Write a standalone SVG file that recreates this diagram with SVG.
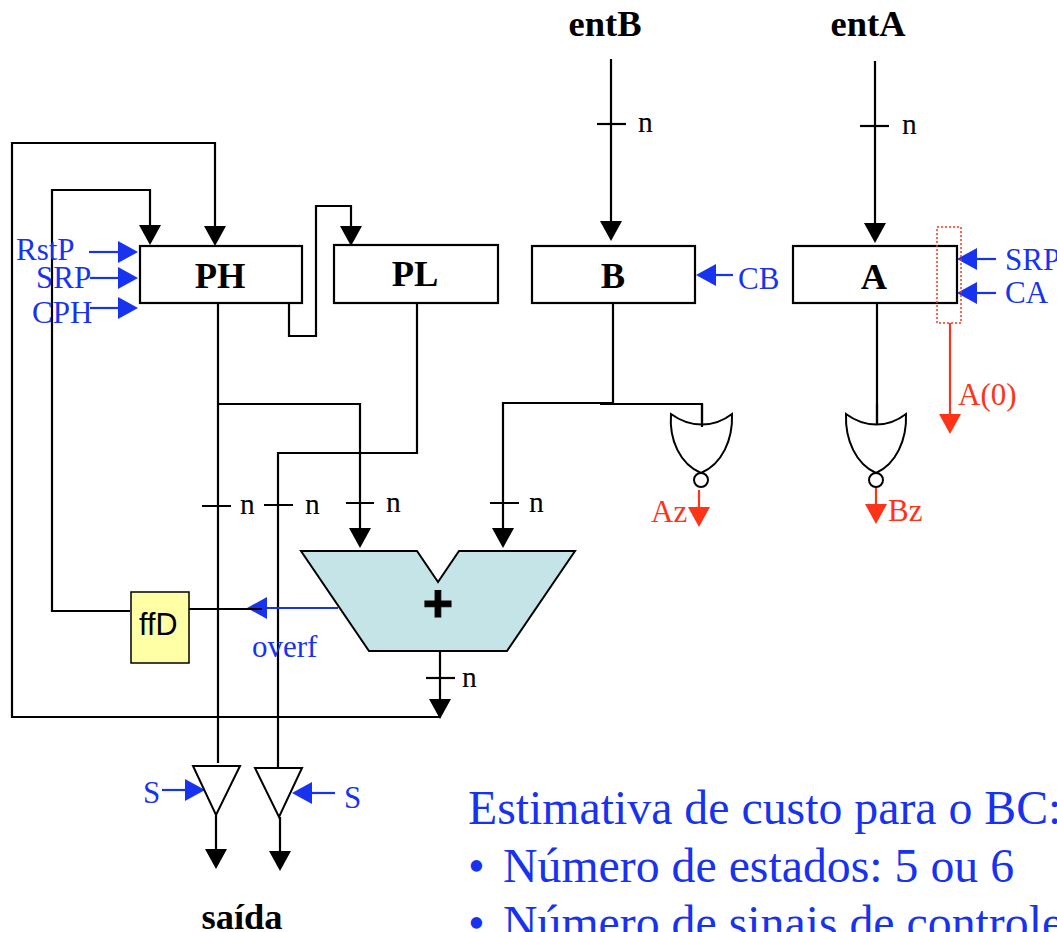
<svg xmlns="http://www.w3.org/2000/svg" width="1057" height="932" viewBox="0 0 1057 932">
<style>
text{font-family:"Liberation Serif","Times New Roman",serif}
.bold{font-weight:700;font-size:36.5px;fill:#000;text-anchor:middle}
.n{font-size:29.5px;fill:#000}
.b{font-size:31px;fill:#1733f0}
.r{font-size:31px;fill:#ff3318}
.est{font-size:47.8px;fill:#1733f0}
.reg{fill:#fff;stroke:#000;stroke-width:2.2}
.gate{fill:#fff;stroke:#000;stroke-width:2}
path,line{fill:none}
.k{stroke:#000;stroke-width:2.2}
.kA{stroke:#000;stroke-width:2.2;marker-end:url(#ak)}
.bA{stroke:#1733f0;stroke-width:2.2;marker-end:url(#ab)}
.rA{stroke:#ff3318;stroke-width:2.2;marker-end:url(#ar)}
</style>
<defs>
<marker id="ak" markerUnits="userSpaceOnUse" markerWidth="21" markerHeight="22" refX="0" refY="11" orient="auto" overflow="visible"><path d="M0,0 L20,11 L0,22 Z" style="fill:#000"/></marker>
<marker id="ab" markerUnits="userSpaceOnUse" markerWidth="21" markerHeight="22" refX="0" refY="11" orient="auto" overflow="visible"><path d="M0,0 L20,11 L0,22 Z" style="fill:#1733f0"/></marker>
<marker id="ar" markerUnits="userSpaceOnUse" markerWidth="21" markerHeight="22" refX="0" refY="11" orient="auto" overflow="visible"><path d="M0,0 L20,11 L0,22 Z" style="fill:#ff3318"/></marker>
</defs>
<g id="connectors">
<path class="kA" d="M611,59V221"/>
<path class="k" d="M597,124H626"/>
<path class="kA" d="M875,61V223"/>
<path class="k" d="M860,126H889"/>
<path class="kA" d="M441,717H12V143H215V226"/>
<path class="kA" d="M130,611H52V190H150V225"/>
<path class="kA" d="M289,303V336H316V206H351V226"/>
<path class="k" d="M218,303V763"/>
<path class="kA" d="M218,404H360V528"/>
<path class="k" d="M417,303V453H278V768"/>
<path class="k" d="M202,506H231M264,505H293M346,503H374M490,503H519"/>
<path class="kA" d="M613,303V403H503V528"/>
<path class="k" d="M600,404H702V427"/>
<path class="k" d="M877,303V425"/>
<path class="bA" d="M338,608H267"/>
<path class="k" d="M189,609H262"/>
<path class="kA" d="M440,651V699"/>
<path class="k" d="M426,678H455"/>
<path class="kA" d="M216,815V849"/>
<path class="kA" d="M280,817V851"/>
<path class="bA" d="M89,252H118"/>
<path class="bA" d="M90,278H118"/>
<path class="bA" d="M90,308H118"/>
<path class="bA" d="M733,275H716"/>
<path class="bA" d="M996,259H977"/>
<path class="bA" d="M996,293H977"/>
<path class="bA" d="M162,790H185"/>
<path class="bA" d="M335,793H312"/>
<path class="rA" d="M950,323V414"/>
<path class="rA" d="M699,490V507"/>
<path class="rA" d="M876,487V504"/>
</g>
<g id="node-PH"><rect class="reg" x="140" y="246" width="162" height="57"/><text class="bold" x="220" y="288">PH</text></g>
<g id="node-PL"><rect class="reg" x="334" y="245" width="164" height="58"/><text class="bold" x="415" y="286">PL</text></g>
<g id="node-B"><rect class="reg" x="532" y="246" width="163" height="57"/><text class="bold" x="613" y="288">B</text></g>
<g id="node-A"><rect class="reg" x="793" y="246" width="164" height="57"/><text class="bold" x="874" y="289">A</text></g>
<g id="node-A0"><rect x="937" y="227" width="24" height="96" style="fill:none;stroke:#ff3318;stroke-width:1.5;stroke-dasharray:2 2"/></g>
<g id="node-adder"><polygon points="301,551 417,551 438,582 459,551 575,551 507,651 369,651" style="fill:#c4e4e8;stroke:#000;stroke-width:2"/><text x="438" y="621" style="font-family:'Liberation Sans',Arial,sans-serif;font-weight:700;font-size:52px;text-anchor:middle;fill:#000;stroke:#000;stroke-width:1">+</text></g>
<g id="node-ffD"><rect x="131" y="592" width="58" height="71" style="fill:#ffffa5;stroke:#000;stroke-width:1.5"/><text x="139" y="635" style="font-family:'Liberation Sans',Arial,sans-serif;font-size:30.5px;fill:#000">ffD</text></g>
<g id="node-norB"><path class="gate" d="M671,414C690,428 714,428 732,414C733,440 722,464 701,473C680,464 669,440 671,414Z"/><circle class="gate" cx="701" cy="480" r="7"/><path class="k" d="M702,404V427"/></g>
<g id="node-norA"><path class="gate" d="M846,414C865,428 888,428 906,414C907,440 896,464 876,473C856,464 845,440 846,414Z"/><circle class="gate" cx="876" cy="480" r="7"/><path class="k" d="M877,404V425"/></g>
<g id="node-buf1"><polygon class="gate" points="193,766 240,766 216,815"/></g>
<g id="node-buf2"><polygon class="gate" points="255,768 302,768 279,817"/></g>
<g id="labels">
<text class="bold" x="605" y="36">entB</text>
<text class="bold" x="868" y="36">entA</text>
<text class="bold" x="242" y="929">saída</text>
<text class="n" x="638" y="132">n</text>
<text class="n" x="902" y="134">n</text>
<text class="n" x="240" y="514">n</text>
<text class="n" x="305" y="514">n</text>
<text class="n" x="386" y="512">n</text>
<text class="n" x="529" y="512">n</text>
<text class="n" x="462" y="687">n</text>
<text class="b" x="16" y="260">RstP</text>
<text class="b" x="36" y="288">SRP</text>
<text class="b" x="32" y="323">CPH</text>
<text class="b" x="738" y="289">CB</text>
<text class="b" x="1005" y="270">SRP</text>
<text class="b" x="1005" y="303">CA</text>
<text class="b" x="252" y="657">overf</text>
<text class="b" x="143" y="803">S</text>
<text class="b" x="344" y="808">S</text>
<text class="r" x="958" y="405">A(0)</text>
<text class="r" x="651" y="522">Az</text>
<text class="r" x="888" y="521">Bz</text>
<text class="est" x="468" y="824">Estimativa de custo para o BC:</text>
<text class="est" x="468" y="882">•</text>
<text class="est" x="503" y="882">Número de estados: 5 ou 6</text>
<text class="est" x="468" y="939">•</text>
<text class="est" x="503" y="939">Número de sinais de controle</text>
</g>
</svg>
